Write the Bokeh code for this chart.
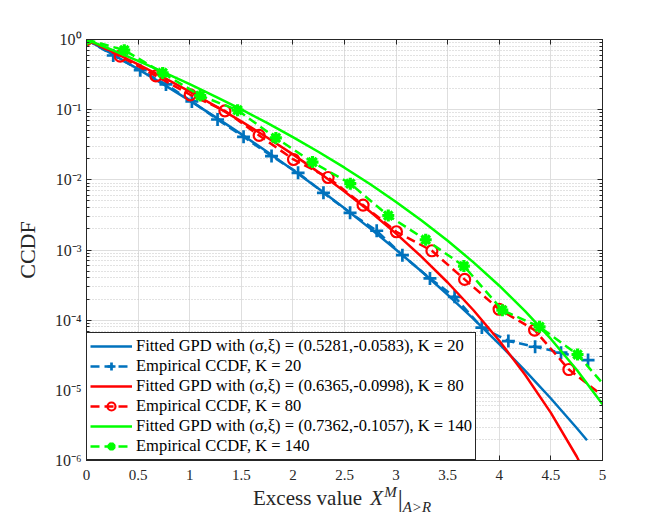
from bokeh.plotting import figure
from bokeh.layouts import column
from bokeh.models import (ColumnDataSource, Range1d, FixedTicker, CustomJSTickFormatter,
                          LinearAxis, LogAxis, Legend, LegendItem, CDSView, IndexFilter, Div)
from bokeh.embed import file_html
from bokeh.resources import INLINE

# ---------------- data ----------------
# Fitted GPD curves
fit20_x = [0, 0.25, 0.5, 0.75, 1.0, 1.25, 1.5, 1.75, 2.0, 2.25, 2.5, 2.75, 3.0, 3.25, 3.5,
           3.75, 4.0, 4.25, 4.5, 4.75, 4.85]
fit20_y = [1.0, 0.6188, 0.3776, 0.2270, 0.1345, 0.07828, 0.04480, 0.02517, 0.01385, 7.459e-3,
           3.928e-3, 2.016e-3, 1.008e-3, 4.890e-4, 2.299e-4, 1.044e-4, 4.564e-5, 1.913e-5,
           7.655e-6, 2.909e-6, 1.944e-6]
fit80_x = [0, 0.25, 0.5, 0.75, 1.0, 1.25, 1.5, 1.75, 2.0, 2.25, 2.5, 2.75, 3.0, 3.25, 3.5,
           3.75, 4.0, 4.25, 4.5, 4.75, 4.77]
fit80_y = [1.0, 0.6698, 0.4413, 0.2854, 0.1811, 0.1124, 0.06812, 0.04020, 0.02304, 0.01278,
           6.835e-3, 3.505e-3, 1.714e-3, 7.930e-4, 3.441e-4, 1.385e-4, 5.084e-5, 1.670e-5,
           4.774e-6, 1.140e-6, 1.0e-6]
fit140_x = [0, 0.25, 0.5, 0.75, 1.0, 1.25, 1.5, 1.75, 2.0, 2.25, 2.5, 2.75, 3.0, 3.25, 3.5,
            3.75, 4.0, 4.25, 4.5, 4.75, 5.0]
fit140_y = [1.0, 0.7078, 0.4943, 0.3402, 0.2307, 0.1539, 0.1008, 0.06474, 0.04068, 0.02495,
            0.01490, 8.639e-3, 4.845e-3, 2.617e-3, 1.353e-3, 6.665e-4, 3.099e-4, 1.347e-4,
            5.402e-5, 1.964e-5, 6.328e-6]

# Empirical CCDFs
emp20_x = [0, 0.259, 0.521, 0.770, 1.021, 1.270, 1.522, 1.793, 2.050, 2.296, 2.554, 2.812,
           3.061, 3.328, 3.567, 3.831, 4.088, 4.347, 4.598, 4.860]
emp20_y = [1.0, 0.592, 0.366, 0.229, 0.131, 0.0724, 0.0410, 0.0218, 0.0126, 6.53e-3, 3.39e-3,
           1.88e-3, 8.45e-4, 3.94e-4, 2.15e-4, 7.85e-5, 5.04e-5, 4.18e-5, 3.44e-5, 2.70e-5]
emp80_x = [0, 0.327, 0.673, 1.005, 1.341, 1.673, 2.006, 2.341, 2.680, 3.003, 3.347, 3.664,
           3.998, 4.342, 4.674, 4.949]
emp80_y = [1.0, 0.578, 0.303, 0.163, 0.0962, 0.0429, 0.0195, 0.0108, 4.37e-3, 1.82e-3,
           9.75e-4, 3.81e-4, 1.43e-4, 7.23e-5, 1.98e-5, 9.62e-6]
emp140_x = [0, 0.366, 0.738, 1.102, 1.464, 1.835, 2.190, 2.556, 2.924, 3.287, 3.657, 4.029,
            4.390, 4.758, 5.0]
emp140_y = [1.0, 0.705, 0.334, 0.159, 0.0984, 0.0396, 0.0179, 8.83e-3, 3.09e-3, 1.40e-3,
            5.90e-4, 1.39e-4, 8.05e-5, 3.24e-5, 1.26e-5]

labels = [
    "Fitted GPD with (σ,ξ) = (0.5281,-0.0583), K = 20",
    "Empirical CCDF, K = 20",
    "Fitted GPD with (σ,ξ) = (0.6365,-0.0998), K = 80",
    "Empirical CCDF, K = 80",
    "Fitted GPD with (σ,ξ) = (0.7362,-0.1057), K = 140",
    "Empirical CCDF, K = 140",
]
x_ticks = [0, 0.5, 1, 1.5, 2, 2.5, 3, 3.5, 4, 4.5, 5]
y_ticks = [1e-6, 1e-5, 1e-4, 1e-3, 1e-2, 1e-1, 1]

# ---------------- styling ----------------
SERIF = "Liberation Serif"
TXT = "#262626"
BLUE = "#0072BD"
RED = "#FF0000"
GREEN = "#00FF00"

p = figure(y_axis_type="log", x_range=Range1d(0, 5), y_range=Range1d(1e-6, 1),
           frame_width=516, frame_height=421,
           min_border_left=86, min_border_right=54, min_border_top=39, min_border_bottom=29,
           output_backend="svg", toolbar_location=None,
           background_fill_color="white", border_fill_color="white")
p.outline_line_color = TXT
p.outline_line_width = 1

y_minor = [k * 10.0 ** e for e in range(-6, 0) for k in range(2, 10)]
xt = FixedTicker(ticks=x_ticks, minor_ticks=[])
yt = FixedTicker(ticks=y_ticks, minor_ticks=y_minor)

xfmt = CustomJSTickFormatter(code="return String(Math.round(tick*10)/10);")
yfmt = CustomJSTickFormatter(code="""
const e = Math.round(Math.log10(tick));
const sup = {'0':'\u2070','1':'\u00b9','2':'\u00b2','3':'\u00b3','4':'\u2074','5':'\u2075',
             '6':'\u2076','7':'\u2077','8':'\u2078','9':'\u2079','-':'\u207b'};
return '10' + String(e).split('').map(c => sup[c]).join('');
""")
blank = CustomJSTickFormatter(code="return '';")

xa = p.xaxis[0]
xa.ticker = xt
xa.formatter = xfmt
ya = p.yaxis[0]
ya.ticker = yt
ya.formatter = yfmt

for ax in (xa, ya):
    ax.axis_line_color = TXT
    ax.major_tick_line_color = TXT
    ax.minor_tick_line_color = TXT
    ax.major_tick_in = 5
    ax.major_tick_out = 0
    ax.minor_tick_in = 3
    ax.minor_tick_out = 0
    ax.major_label_text_font = SERIF
    ax.major_label_text_color = TXT

xa.major_label_text_font_size = "15px"
ya.major_label_text_font_size = "16px"
xa.minor_tick_line_color = None
xa.major_label_standoff = 9
ya.major_label_standoff = 5
ya.axis_label = "CCDF"
ya.axis_label_text_font = SERIF
ya.axis_label_text_font_size = "22px"
ya.axis_label_text_font_style = "normal"
ya.axis_label_text_color = TXT
ya.axis_label_standoff = 12

top = LinearAxis(ticker=xt, formatter=blank, major_tick_in=5, major_tick_out=0,
                 minor_tick_line_color=None, axis_line_color=TXT, major_tick_line_color=TXT,
                 major_label_text_font_size="0px")
right = LogAxis(ticker=yt, formatter=blank, major_tick_in=5, major_tick_out=0,
                minor_tick_in=3, minor_tick_out=0, axis_line_color=TXT,
                major_tick_line_color=TXT, minor_tick_line_color=TXT,
                major_label_text_font_size="0px")
p.add_layout(top, "above")
p.add_layout(right, "right")

p.xgrid.ticker = xt
p.ygrid.ticker = yt
p.xgrid.grid_line_color = "#dedede"
p.ygrid.grid_line_color = "#dedede"
p.ygrid.minor_grid_line_color = "#c4c4c4"
p.ygrid.minor_grid_line_dash = "1 2"

# ---------------- series ----------------
items = []
series = [
    (fit20_x, fit20_y, emp20_x, emp20_y, BLUE, "cross", 13, 2.7, False),
    (fit80_x, fit80_y, emp80_x, emp80_y, RED, "circle", 11, 2.2, True),
    (fit140_x, fit140_y, emp140_x, emp140_y, GREEN, "asterisk", 12, 3.2, True),
]
k = 0
for fx, fy, ex, ey, col, mk, ms, mlw, drop_last in series:
    fsrc = ColumnDataSource(dict(x=fx, y=fy))
    esrc = ColumnDataSource(dict(x=ex, y=ey))
    rf = p.line("x", "y", source=fsrc, line_color=col, line_width=2.5)
    re = p.line("x", "y", source=esrc, line_color=col, line_width=2.5, line_dash="9 5")
    n = len(ex) - 1 if drop_last else len(ex)
    view = CDSView(filter=IndexFilter(list(range(n))))
    rm = p.scatter("x", "y", source=esrc, view=view, marker=mk, size=ms,
                   line_color=col, line_width=mlw, fill_color=None)
    items.append(LegendItem(label=labels[k], renderers=[rf]))
    items.append(LegendItem(label=labels[k + 1], renderers=[re, rm]))
    k += 2

legend = Legend(items=items, location="bottom_left", margin=0, padding=3, spacing=0,
                label_height=20, glyph_height=20, glyph_width=42, label_standoff=4,
                label_text_font=SERIF, label_text_font_size="16.5px", label_text_color="black",
                border_line_color=TXT, border_line_width=1, border_line_alpha=1,
                background_fill_color="white", background_fill_alpha=1)
p.add_layout(legend)

# ---------------- x axis label (mixed styles, real HTML text) ----------------
xlabel_html = (
    '<div style="position:absolute; left:253px; top:-3px; white-space:nowrap; '
    'font-family:\'Liberation Serif\'; font-size:21px; line-height:21px; color:#262626;">'
    'Excess value '
    '<span style="font-style:italic; margin-left:3px;">X</span>'
    '<span style="font-style:italic; font-size:15px; position:relative; top:-8px; '
    'margin-left:1px;">M</span>'
    '<span style="font-size:25px; position:relative; top:2px; margin-left:1px;">|</span>'
    '<span style="font-style:italic; font-size:15px; position:relative; top:7px;">A&gt;R</span>'
    '</div>'
)
xlabel = Div(text=xlabel_html, width=656, height=30, margin=0,
             styles={"position": "relative", "overflow": "visible"})

layout = column(p, xlabel, spacing=0)
open("out.html", "w").write(file_html(layout, INLINE))
